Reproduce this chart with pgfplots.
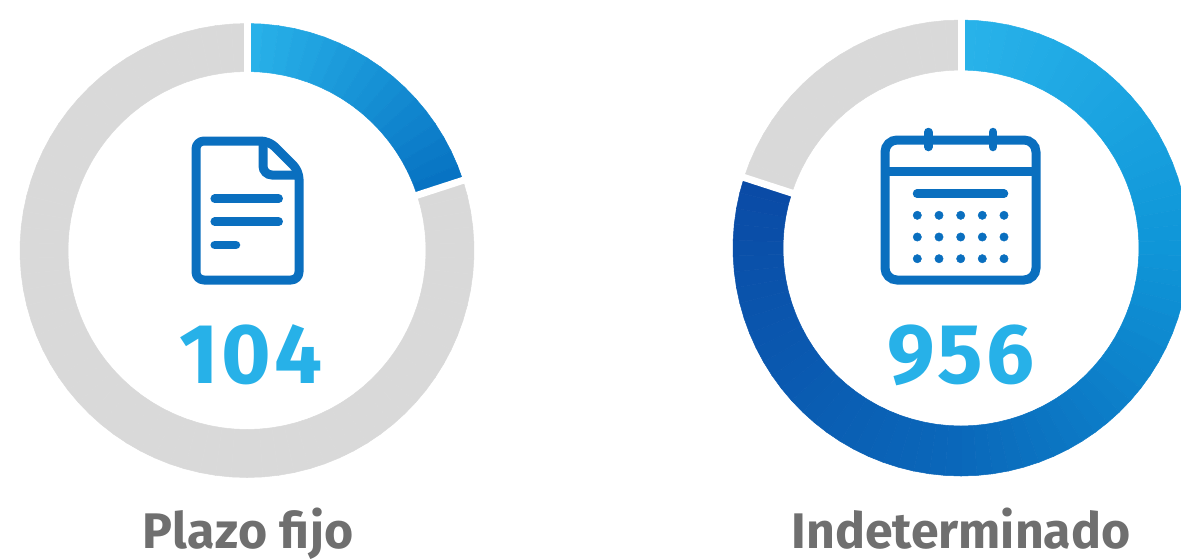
\documentclass[border=0pt]{standalone}
\usepackage{pgfplots}
\pgfplotsset{compat=1.18}
\usepackage{fontspec}
\setmainfont{Fira Sans}
\newfontfamily\numfont[LetterSpace=4]{Fira Sans}
\newfontfamily\labfont[LetterSpace=1]{Fira Sans}
\definecolor{ringgray}{HTML}{D9D9D9}
\definecolor{iconblue}{HTML}{0A6FBF}
\definecolor{numblue}{HTML}{27B1E8}
\definecolor{labgray}{HTML}{6F6F6F}
\definecolor{gA}{HTML}{29B3EA}
\definecolor{gB}{HTML}{0F96D8}
\definecolor{gC}{HTML}{0A68BA}
\definecolor{gD}{HTML}{0A4BA6}
\definecolor{lA}{HTML}{29B3EA}
\definecolor{lB}{HTML}{0672C2}
% one ring piece: cx, cy, R, r, from angle, to angle, colour (clockwise from 12 o'clock)
\newcommand\ringpiece[7]{%
  \pgfmathsetmacro\xa{#1+#3*sin(#5)}\pgfmathsetmacro\ya{#2-#3*cos(#5)}%
  \pgfmathsetmacro\xb{#1+#3*sin(#6)}\pgfmathsetmacro\yb{#2-#3*cos(#6)}%
  \pgfmathsetmacro\xc{#1+#4*sin(#6)}\pgfmathsetmacro\yc{#2-#4*cos(#6)}%
  \pgfmathsetmacro\xd{#1+#4*sin(#5)}\pgfmathsetmacro\yd{#2-#4*cos(#5)}%
  \edef\temp{\noexpand\addplot[forget plot,fill={#7},draw={#7},line width=0.5pt,mark=none]
    coordinates {(\xa,\ya)(\xb,\yb)(\xc,\yc)(\xd,\yd)} --cycle;}\temp}
\newcommand\radialgap[5]{% cx cy R r angle
  \pgfmathsetmacro\xa{#1+#3*sin(#5)}\pgfmathsetmacro\ya{#2-#3*cos(#5)}%
  \pgfmathsetmacro\xb{#1+#4*sin(#5)}\pgfmathsetmacro\yb{#2-#4*cos(#5)}%
  \edef\temp{\noexpand\addplot[forget plot,white,line width=7pt,mark=none]
    coordinates {(\xa,\ya)(\xb,\yb)};}\temp}
\begin{document}
\begin{tikzpicture}
\useasboundingbox (0,0) rectangle (1181pt,558pt);
\begin{axis}[
  at={(0,0)},anchor=south west,
  width=1181pt,height=558pt,scale only axis,
  xmin=0,xmax=1181,ymin=0,ymax=558,y dir=reverse,
  hide axis,
]
% ---------- left ring: Plazo fijo, 20 % ----------
\pgfplotsforeachungrouped \a in {0,4,...,68}{%
  \pgfmathtruncatemacro\p{100*(72-\a-2)/72}%
  \pgfmathsetmacro\e{\a+4}%
  \ringpiece{247}{250.5}{227}{179}{\a}{\e}{lA!\p!lB}}
\pgfplotsforeachungrouped \a in {72,76,...,356}{%
  \pgfmathsetmacro\e{\a+4}%
  \ringpiece{247}{250.5}{227}{179}{\a}{\e}{ringgray}}
\radialgap{247}{250.5}{232}{174}{0}
\radialgap{247}{250.5}{232}{174}{72}
% ---------- right ring: Indeterminado, 80 % ----------
\pgfplotsforeachungrouped \a in {0,4,...,88}{%
  \pgfmathtruncatemacro\p{100*(90-\a-2)/90}%
  \pgfmathsetmacro\e{\a+4}%
  \ringpiece{961}{248}{228}{178}{\a}{\e}{gA!\p!gB}}
\pgfplotsforeachungrouped \a in {92,96,...,176}{%
  \pgfmathtruncatemacro\p{100*(180-\a-2)/90}%
  \pgfmathsetmacro\e{\a+4}%
  \ringpiece{961}{248}{228}{178}{\a}{\e}{gB!\p!gC}}
\pgfplotsforeachungrouped \a in {180,184,...,284}{%
  \pgfmathtruncatemacro\p{100*(288-\a-2)/108}%
  \pgfmathsetmacro\e{\a+4}%
  \ringpiece{961}{248}{228}{178}{\a}{\e}{gC!\p!gD}}
\pgfplotsforeachungrouped \a in {288,292,...,356}{%
  \pgfmathsetmacro\e{\a+4}%
  \ringpiece{961}{248}{228}{178}{\a}{\e}{ringgray}}
\radialgap{961}{248}{233}{173}{0}
\radialgap{961}{248}{233}{173}{288}
% ---------- document icon ----------
\draw[iconblue,line width=9pt,rounded corners=8pt,line join=round]
  (196,141) -- (269,141) -- (299,171) -- (299,280) -- (196,280) -- cycle;
\draw[iconblue,line width=9pt,rounded corners=9pt]
  (263,141) -- (263,175) -- (299,175);
\draw[iconblue,line width=8.5pt,line cap=round] (214.7,198.7) -- (278.7,198.7);
\draw[iconblue,line width=8.5pt,line cap=round] (214.7,221.7) -- (278.7,221.7);
\draw[iconblue,line width=8.5pt,line cap=round] (214.7,245) -- (236,245);
% ---------- calendar icon ----------
\draw[iconblue,line width=9pt,rounded corners=12pt]
  (885,140) -- (1036,140) -- (1036,280) -- (885,280) -- cycle;
\draw[iconblue,line width=9pt] (885,171.7) -- (1036,171.7);
\draw[iconblue,line width=8.5pt,line cap=round] (928.3,132) -- (928.3,147);
\draw[iconblue,line width=8.5pt,line cap=round] (993,132) -- (993,147);
\draw[iconblue,line width=8.5pt,line cap=round] (917,193.7) -- (1004,193.7);
\addplot[forget plot,only marks,mark=*,mark size=4.2pt,iconblue,mark options={draw=none,fill=iconblue}]
  coordinates {(917.3,215.3)(939,215.3)(960.7,215.3)(982.3,215.3)(1004,215.3)
               (917.3,237)(939,237)(960.7,237)(982.3,237)(1004,237)
               (917.3,258.7)(939,258.7)(960.7,258.7)(982.3,258.7)(1004,258.7)};
% ---------- text ----------
\node[anchor=base,text=numblue,font=\fontsize{85}{85}\selectfont\numfont\bfseries,inner sep=0pt] at (251,383) {104};
\node[anchor=base,text=numblue,font=\fontsize{85}{85}\selectfont\numfont\bfseries,inner sep=0pt] at (961,383) {956};
\node[anchor=base,text=labgray,font=\fontsize{50}{50}\selectfont\labfont\bfseries,inner sep=0pt] at (248,548) {Plazo fijo};
\node[anchor=base,text=labgray,font=\fontsize{50}{50}\selectfont\bfseries,inner sep=0pt] at (961,548) {Indeterminado};
\end{axis}
\end{tikzpicture}
\end{document}
